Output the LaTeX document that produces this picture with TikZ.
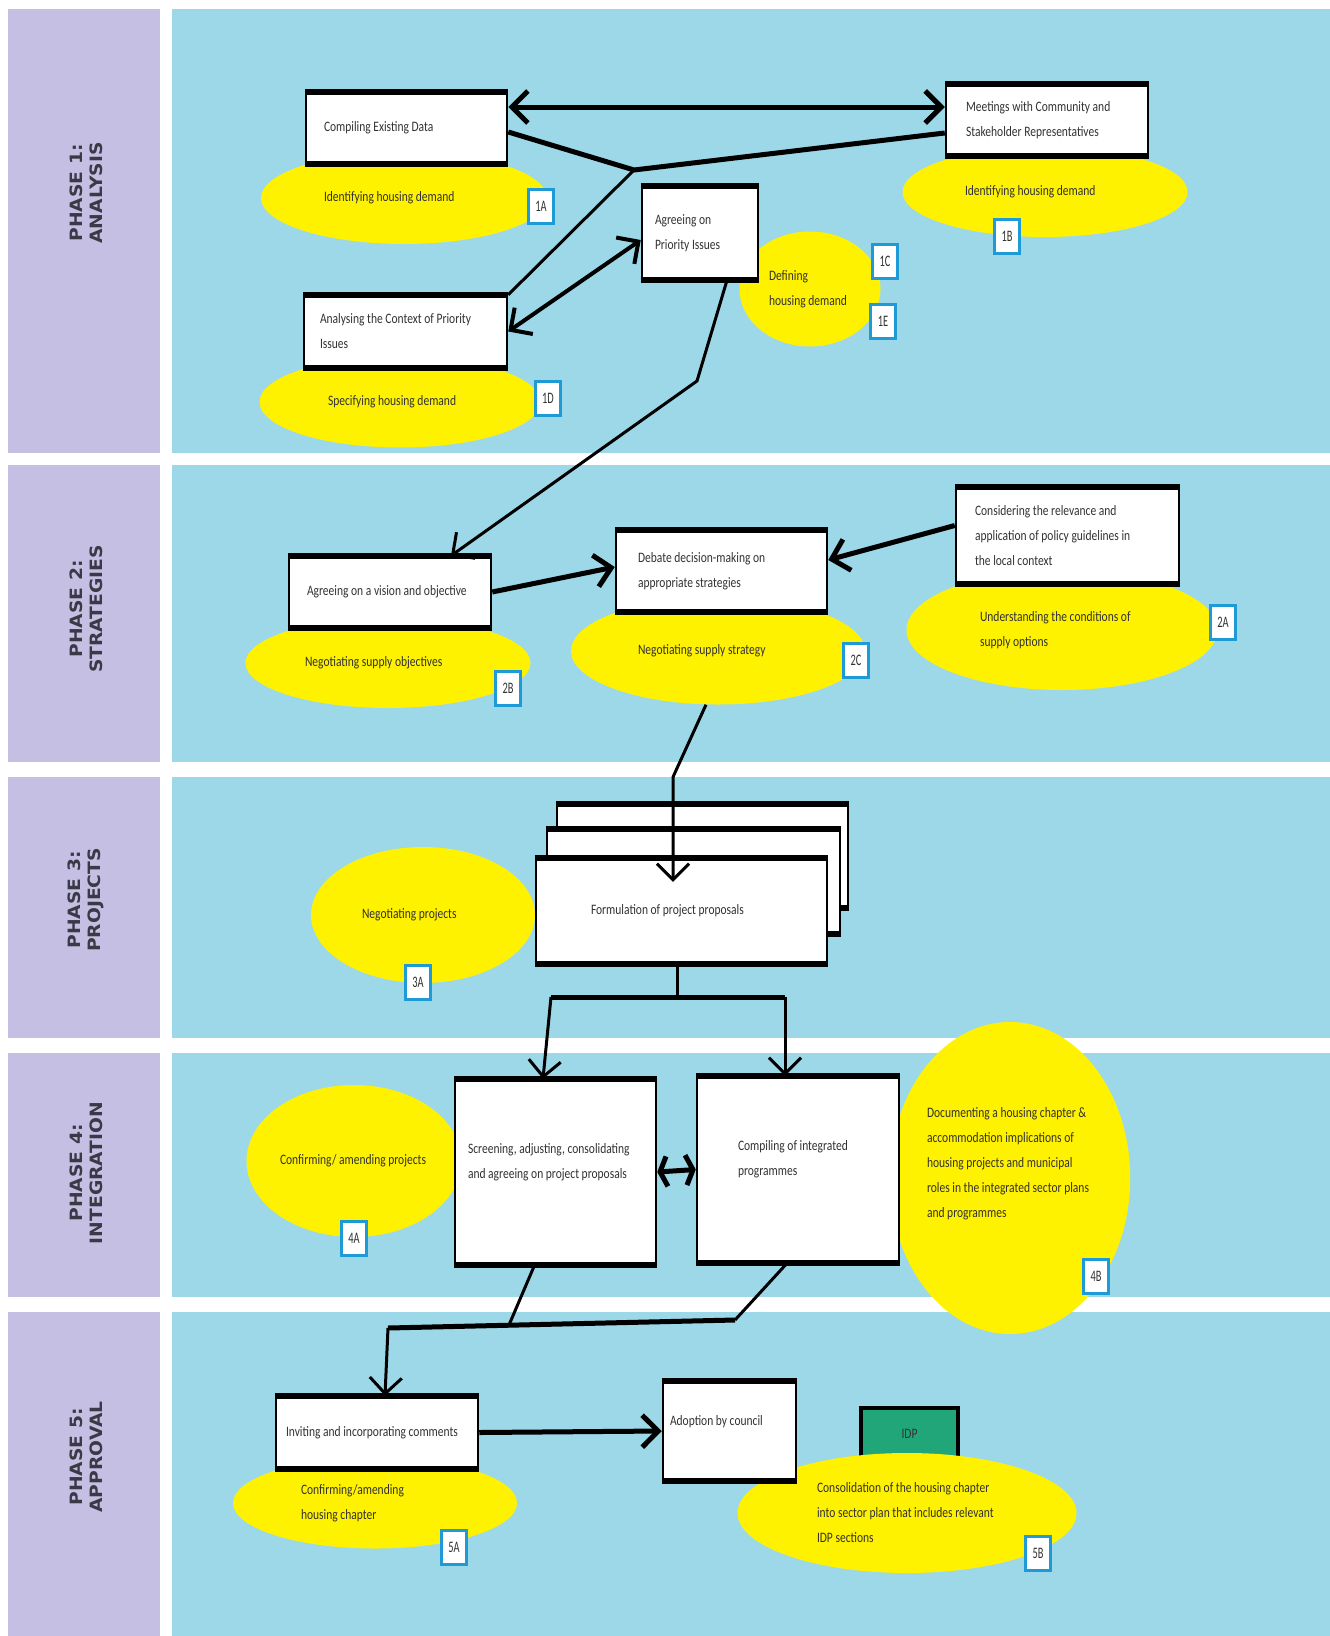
\documentclass[tikz,border=0pt]{standalone}
\usepackage{fontspec}
\setmainfont{Carlito}
\newfontfamily\boxfont[FakeStretch=0.8]{Carlito}
\newfontfamily\tagfont[FakeStretch=0.65]{Carlito}
\newfontfamily\phasefont[FakeStretch=1.1]{DejaVu Sans}
\usetikzlibrary{arrows.meta,shapes.geometric}

\definecolor{lanepurple}{RGB}{198,191,228}
\definecolor{laneblue}{RGB}{157,216,232}
\definecolor{blobyellow}{RGB}{255,242,0}
\definecolor{tagblue}{RGB}{30,155,215}
\definecolor{idpgreen}{RGB}{33,166,122}
\definecolor{inktext}{RGB}{50,50,50}
\definecolor{phasegray}{RGB}{58,58,70}

\tikzstyle{phase}=[rotate=90,align=center,text=phasegray,
  font=\phasefont\bfseries\fontsize{17}{20}\selectfont]
\tikzstyle{plaintext}=[execute at begin node={\spaceskip=0pt\xspaceskip=0pt\hyphenpenalty=10000}]
\tikzstyle{procbox}=[rectangle,draw=black,line width=2.5pt,fill=white,
  inner ysep=0pt,align=left,text=inktext,plaintext,
  append after command={(\tikzlastnode.north west) edge[line width=6pt] (\tikzlastnode.north east)
                        (\tikzlastnode.south west) edge[line width=6pt] (\tikzlastnode.south east)}]
\tikzstyle{blob}=[ellipse,fill=blobyellow,draw=none,inner sep=2pt,align=left,text=inktext,plaintext]
\tikzstyle{tagbox}=[rectangle,draw=tagblue,line width=3pt,fill=white,
  minimum width=25pt,minimum height=34pt,inner sep=0pt,text=inktext,
  font=\tagfont\fontsize{16}{16}\selectfont]
\tikzstyle{idpbox}=[rectangle,draw=black,line width=3.5pt,fill=idpgreen,
  minimum width=97pt,minimum height=52pt,text=inktext]
\tikzstyle{heavy}=[line width=5pt,draw=black]
\tikzstyle{mid}=[line width=4pt,draw=black]
\tikzstyle{light}=[line width=3pt,draw=black]

\begin{document}
\begin{tikzpicture}[x=1pt,y=-1pt,font=\boxfont\fontsize{14.4}{25}\selectfont,
                    >={Straight Barb[length=16pt,width=32pt]}]

  \useasboundingbox (0,0) rectangle (1330,1636);
  \fill[white] (0,0) rectangle (1330,1636);
  % swim lanes
  \foreach \ytop/\ybot in {9/453,465/762,777/1038,1053/1297,1312/1636}{
    \fill[lanepurple] (8,\ytop) rectangle (160,\ybot);
    \fill[laneblue] (172,\ytop) rectangle (1330,\ybot);
  }

  % phase titles
  \node[phase] (ph1) at (86,193)  {PHASE 1:\\ANALYSIS};
  \node[phase] (ph2) at (86,609)  {PHASE 2:\\STRATEGIES};
  \node[phase] (ph3) at (86,900)  {PHASE 3:\\PROJECTS};
  \node[phase] (ph4) at (86,1173) {PHASE 4:\\INTEGRATION};
  \node[phase] (ph5) at (86,1457) {PHASE 5:\\APPROVAL};

  % phase 1
  \node[blob,minimum width=286,minimum height=92,text width=160] (idA) at (404,198) {Identifying housing demand};
  \node[tagbox] (tA) at (541,206) {1A};
  \node[blob,minimum width=285,minimum height=90,text width=160] (idB) at (1045,192) {Identifying housing demand};
  \node[tagbox] (tB) at (1007,236) {1B};
  \node[blob,minimum width=141,minimum height=115,text width=82] (dhd) at (810,289) {Defining\\housing demand};
  \node[tagbox] (tC) at (885,261) {1C};
  \node[tagbox] (tE) at (883,321) {1E};
  \node[blob,minimum width=281,minimum height=91,text width=144] (shd) at (400,402) {Specifying housing demand};
  \node[tagbox] (tD) at (548,398) {1D};

  \node[procbox,minimum width=201,minimum height=70,text width=165] (ced) at (406.5,128) {Compiling Existing Data};
  \node[procbox,minimum width=202,minimum height=70,text width=162] (mcs) at (1047,120) {Meetings with Community and\\Stakeholder Representatives};
  \node[procbox,minimum width=116,minimum height=92,text width=90] (api) at (700,233) {Agreeing on\\Priority Issues};
  \node[procbox,minimum width=203,minimum height=71,text width=171] (acp) at (405.5,331.5) {Analysing the Context of Priority\\Issues};

  % phase 2
  \node[blob,minimum width=285,minimum height=90,text width=166] (nso) at (388,663) {Negotiating supply objectives};
  \node[tagbox] (tB2) at (508,688) {2B};
  \node[blob,minimum width=294,minimum height=107,text width=160] (nss) at (718,651) {Negotiating supply strategy};
  \node[tagbox] (tC2) at (856,660) {2C};
  \node[blob,minimum width=311,minimum height=120,text width=164] (ucs) at (1062,630) {Understanding the conditions of\\supply options};
  \node[tagbox] (tA2) at (1223,622) {2A};

  \node[procbox,minimum width=202,minimum height=70,text width=166] (avo) at (390,592) {Agreeing on a vision and objective};
  \node[procbox,minimum width=211,minimum height=80,text width=167] (ddm) at (721.5,571) {Debate decision-making on\\appropriate strategies};
  \node[procbox,minimum width=223,minimum height=95,text width=185] (crp) at (1067.5,535.5) {Considering the relevance and\\application of policy guidelines in\\the local context};

  % phase 3
  \node[blob,minimum width=224,minimum height=136,text width=122] (ngp) at (423,915) {Negotiating projects};
  \node[tagbox] (tA3) at (418,982) {3A};
  \node[procbox,minimum width=291,minimum height=102] (fpp3) at (702.5,856) {};
  \node[procbox,minimum width=293,minimum height=103] (fpp2) at (693.5,881.5) {};
  \node[procbox,minimum width=291,minimum height=104,text width=181] (fpp) at (681.5,911) {Formulation of project proposals};

  % phase 4
  \node[blob,minimum width=202,minimum height=152,text width=148] (cap) at (354,1161) {Confirming/ amending projects};
  \node[tagbox] (tA4) at (354,1238) {4A};
  \node[blob,minimum width=224,minimum height=312,text width=166,text depth=131pt] (dhc) at (1010,1178) {Documenting a housing chapter \&\\accommodation implications of\\housing projects and municipal\\roles in the integrated sector plans\\and programmes};
  \node[tagbox] (tB4) at (1096,1276) {4B};

  \node[procbox,minimum width=201,minimum height=184,text width=175,text depth=48pt] (sap) at (555.5,1172) {Screening, adjusting, consolidating\\and agreeing on project proposals};
  \node[procbox,minimum width=202,minimum height=185,text width=120,text depth=48pt] (cip) at (798,1169.5) {Compiling of integrated\\programmes};

  % phase 5
  \node[idpbox] (idp) at (909.5,1434) {IDP};
  \node[blob,minimum width=284,minimum height=91,text width=148] (cah) at (375,1503) {Confirming/amending\\housing chapter};
  \node[tagbox] (tA5) at (454,1547) {5A};
  \node[blob,minimum width=339,minimum height=120,text width=180] (chs) at (907,1513) {Consolidation of the housing chapter\\into sector plan that includes relevant\\IDP sections};
  \node[tagbox] (tB5) at (1038,1553) {5B};

  \node[procbox,minimum width=202,minimum height=71,text width=182] (iic) at (377,1432.5) {Inviting and incorporating comments};
  \node[procbox,minimum width=133,minimum height=98,text width=119,text depth=21pt] (abc) at (729.5,1431) {Adoption by council};

  % connectors
  \coordinate (hub) at (634,170);
  \draw[heavy,<->] ([yshift=21pt]ced.east) -- ([yshift=13pt]mcs.west);
  \draw[heavy] ([yshift=-13pt]mcs.west) -- (hub) -- ([yshift=-4pt]ced.east);
  \draw[light] (hub) -- (acp.north east);
  \draw[mid,<->] (acp.east) -- ([yshift=-7pt]api.west);
  \draw[light,->] ([xshift=27pt]api.south) -- (697,381) -- ([xshift=61pt]avo.north);
  \draw[heavy,->] (avo.east) -- ([yshift=4pt]ddm.west);
  \draw[heavy,->] ([yshift=10pt]crp.west) -- ([yshift=11pt]ddm.east);
  \draw[light,->] ([xshift=-12pt]nss.south) -- (673,777) -- ([xshift=-8.5pt,yshift=-24pt]fpp.north);

  \coordinate (forkL) at (551,997);
  \coordinate (forkR) at (785,997);
  \draw[light] ([xshift=-4.5pt]fpp.south) -- (677,997);
  \draw[heavy] (forkL) -- (forkR);
  \draw[light,->] (forkL) -- ([xshift=-12.5pt]sap.north);
  \draw[light,->] (forkR) -- ([xshift=-13pt]cip.north);
  \draw[heavy,{Straight Barb[length=7pt,width=30pt]}-{Straight Barb[length=7pt,width=30pt]}] (sap.east) -- (cip.west);

  \coordinate (mergeL) at (388,1328);
  \coordinate (mergeR) at (735,1320);
  \draw[light] ([xshift=-21pt]sap.south) -- (509,1325);
  \draw[light] ([xshift=-11pt]cip.south) -- (mergeR);
  \draw[heavy] (mergeR) -- (mergeL);
  \draw[light,->] (mergeL) -- ([xshift=8pt]iic.north);
  \draw[heavy,->] (iic.east) -- (abc.west);

\end{tikzpicture}
\end{document}
